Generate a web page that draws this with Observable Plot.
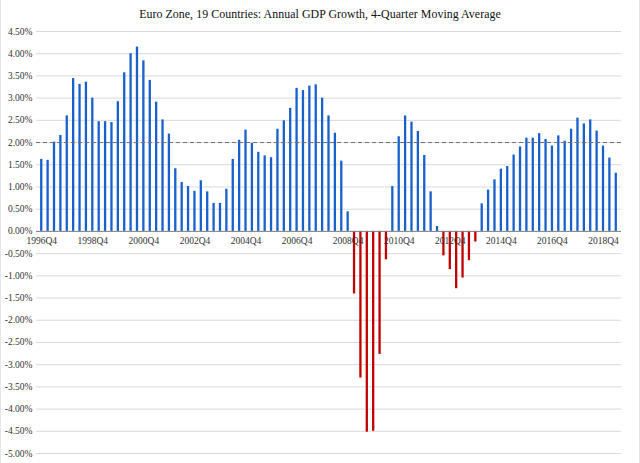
<!DOCTYPE html>
<html>
<head>
<meta charset="utf-8">
<script src="https://cdn.jsdelivr.net/npm/d3@7"></script>
<script src="https://cdn.jsdelivr.net/npm/@observablehq/plot@0.6"></script>
<style>
  html, body { margin: 0; padding: 0; background: #fff; }
  #wrap { position: relative; width: 640px; height: 463px; box-sizing: border-box; border-left: 1px solid #e6e6e6; border-right: 1px solid #e6e6e6; overflow: hidden; }
  #title { height: 24px; line-height: 28px; text-align: center; font-family: "Liberation Serif", "DejaVu Serif", serif; font-size: 11.9px; color: #111; letter-spacing: 0.05px; }
</style>
</head>
<body>
<div id="wrap">
  <div id="title">Euro Zone, 19 Countries: Annual GDP Growth, 4-Quarter Moving Average</div>
  <div id="chart"></div>
</div>
<script>
// 4-quarter moving average of annual GDP growth (%), 1996Q4 .. 2019Q2
const values = [
  1.62, 1.60, 2.01, 2.16, 2.60, 3.44, 3.31, 3.36,
  3.00, 2.47, 2.47, 2.45, 2.92, 3.57, 4.00, 4.15,
  3.84, 3.40, 2.91, 2.51, 2.19, 1.41, 1.10, 1.01,
  0.90, 1.14, 0.89, 0.63, 0.63, 0.95, 1.62, 2.05,
  2.28, 1.98, 1.78, 1.70, 1.66, 2.30, 2.49, 2.77,
  3.22, 3.17, 3.27, 3.30, 3.00, 2.60, 2.21, 1.58,
  0.44, -1.41, -3.30, -4.52, -4.50, -2.77, -0.64, 1.01,
  2.13, 2.60, 2.46, 2.25, 1.71, 0.89, 0.11, -0.55,
  -0.86, -1.29, -1.05, -0.66, -0.24, 0.62, 0.93, 1.16,
  1.40, 1.46, 1.72, 1.90, 2.10, 2.10, 2.20, 2.07,
  1.92, 2.15, 2.03, 2.30, 2.55, 2.42, 2.51, 2.26,
  1.92, 1.65, 1.31
];
const startYear = 1996, startQuarter = 4;
const quarters = values.map((_, i) => {
  const q = startQuarter - 1 + i;
  return `${startYear + Math.floor(q / 4)}Q${(q % 4) + 1}`;
});
const xTickLabels = ["1996Q4","1998Q4","2000Q4","2002Q4","2004Q4","2006Q4","2008Q4","2010Q4","2012Q4","2014Q4","2016Q4","2018Q4"];
const yTicks = [4.5,4,3.5,3,2.5,2,1.5,1,0.5,0,-0.5,-1,-1.5,-2,-2.5,-3,-3.5,-4,-4.5,-5];
const referenceLine = [2.0];

const data = quarters.map((q, i) => ({quarter: q, value: values[i]}));

const chart = Plot.plot({
  width: 638,
  height: 439,
  marginTop: 7,
  marginBottom: 10,
  marginLeft: 35,
  marginRight: 18,
  style: {fontFamily: "'Liberation Serif', 'DejaVu Serif', serif", fontSize: "9.5px", color: "#333", background: "#fff"},
  x: {domain: quarters, padding: 0.64, axis: null},
  y: {domain: [-5, 4.5], ticks: yTicks, tickFormat: d => d.toFixed(2) + "%", tickSize: 0, tickPadding: 4, label: null},
  marks: [
    Plot.gridY(yTicks.filter(d => d !== 0 && d !== -5), {stroke: "#d9d9d9", strokeOpacity: 1, strokeWidth: 1}),
    Plot.ruleY([-5], {stroke: "#d9d9d9", strokeWidth: 1}),
    Plot.barY(data, {x: "quarter", y: "value", fill: d => d.value < 0 ? "#c00000" : "#1860cc"}),
    Plot.ruleY([0], {stroke: "#7f7f7f", strokeWidth: 1}),
    Plot.ruleY(referenceLine, {stroke: "#6f6f6f", strokeWidth: 1, strokeDasharray: "4,3"}),
    Plot.text(xTickLabels, {x: d => d, y: 0, dy: 10, fill: "#333", fontSize: 9.5})
  ]
});
document.getElementById("chart").appendChild(chart);
</script>
</body>
</html>
